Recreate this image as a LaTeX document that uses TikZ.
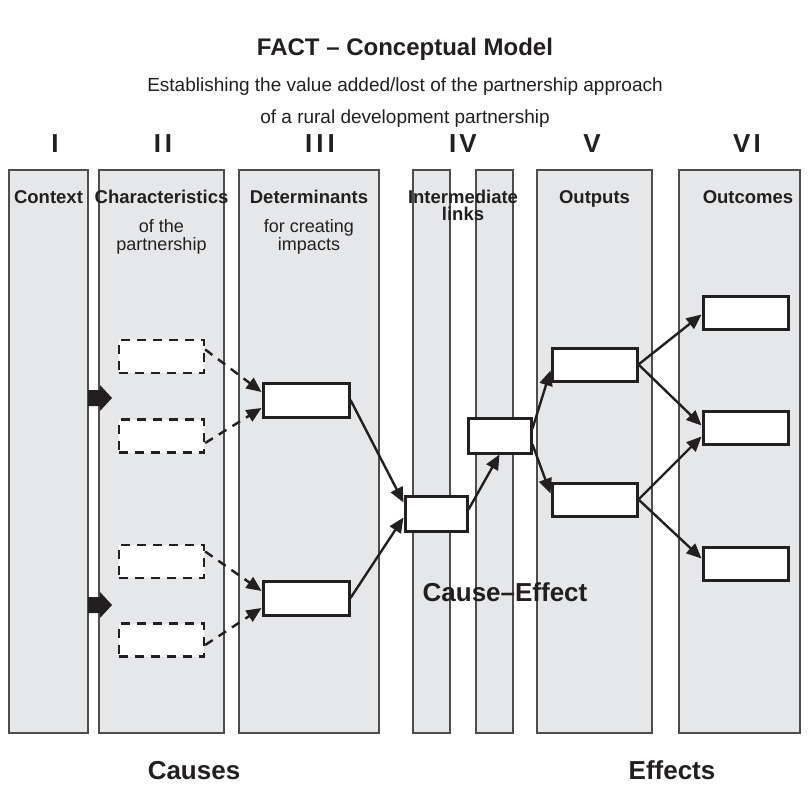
\documentclass[tikz,border=0pt]{standalone}
\usepackage{fontspec}
\setmainfont{Liberation Sans}
\usetikzlibrary{arrows.meta,calc}
\definecolor{colfill}{HTML}{E6E7E8}
\definecolor{colline}{HTML}{4D4D4D}
\definecolor{ink}{HTML}{231F20}
\begin{document}
\begin{tikzpicture}[x=1bp,y=-1bp,
  column/.style={draw=colline, line width=1.4bp, fill=colfill},
  solidbox/.style={draw=ink, line width=3bp, fill=white, inner sep=0pt, minimum width=86bp, minimum height=34bp},
  dashbox/.style={draw=ink, line width=2.4bp, dash pattern=on 9bp off 7bp, fill=white, inner sep=0pt, minimum width=85bp, minimum height=33bp},
  link/.style={draw=ink, line width=2.4bp, -{Triangle[length=15bp,width=13bp]}},
  dashlink/.style={link, dash pattern=on 9bp off 7bp},
  blockarrow/.style={fill=ink},
  titletxt/.style={font=\fontsize{24bp}{28bp}\selectfont\bfseries, text=ink, anchor=base, inner sep=0pt},
  subtxt/.style={font=\fontsize{19bp}{22bp}\selectfont, text=ink, anchor=base, inner sep=0pt},
  numtxt/.style={font=\fontsize{26bp}{28bp}\selectfont\bfseries, text=ink, anchor=base, inner sep=0pt},
  hdrtxt/.style={font=\fontsize{18.5bp}{20bp}\selectfont\bfseries, text=ink, anchor=base, inner sep=0pt},
  hdrsub/.style={font=\fontsize{18bp}{20bp}\selectfont, text=ink, anchor=base, inner sep=0pt},
  bigtxt/.style={font=\fontsize{26bp}{28bp}\selectfont\bfseries, text=ink, anchor=base, inner sep=0pt}
]
\useasboundingbox[fill=white] (0,0) rectangle (810,785);

% title
\node[titletxt] (title) at (405,56) {FACT -- Conceptual Model};
\node[subtxt] (sub1) at (405,91) {Establishing the value added/lost of the partnership approach};
\node[subtxt] (sub2) at (405,123) {of a rural development partnership};

% roman numerals
\node[numtxt] (nI) at (55,152) {I};
\node[numtxt] (nII) at (163,152) {I\hspace{4bp}I};
\node[numtxt] (nIII) at (320,152) {I\hspace{4bp}I\hspace{4bp}I};
\node[numtxt] (nIV) at (463,152) {I\hspace{3bp}V};
\node[numtxt] (nV) at (592,152) {V};
\node[numtxt] (nVI) at (747,152) {V\hspace{3bp}I};

% columns
\draw[column] (9,170) rectangle (88,733);
\draw[column] (99,170) rectangle (224,733);
\draw[column] (239,170) rectangle (379,733);
\draw[column] (413,170) rectangle (450,733);
\draw[column] (476,170) rectangle (513,733);
\draw[column] (537,170) rectangle (652,733);
\draw[column] (679,170) rectangle (800,733);

% headers
\node[hdrtxt] (hI) at (48.5,203) {Context};
\node[hdrtxt] (hII) at (161.5,203) {Characteristics};
\node[hdrsub] (hIIa) at (161.5,232) {of the};
\node[hdrsub] (hIIb) at (161.5,250) {partnership};
\node[hdrtxt] (hIII) at (309,203) {Determinants};
\node[hdrsub] (hIIIa) at (309,232) {for creating};
\node[hdrsub] (hIIIb) at (309,250) {impacts};
\node[hdrtxt] (hIV) at (463,203) {Intermediate};
\node[hdrtxt] (hIVb) at (463,220) {links};
\node[hdrtxt] (hV) at (594.5,203) {Outputs};
\node[hdrtxt] (hVI) at (748,203) {Outcomes};

% block arrows from context
\fill[blockarrow] (88,390) -- (100,390) -- (100,385) -- (112,398) -- (100,411) -- (100,406) -- (88,406) -- cycle;
\fill[blockarrow] (88,597) -- (100,597) -- (100,592) -- (112,605) -- (100,618) -- (100,613) -- (88,613) -- cycle;

% boxes
\node[dashbox] (d1) at (161.5,356.5) {};
\node[dashbox] (d2) at (161.5,436) {};
\node[dashbox] (d3) at (161.5,561.5) {};
\node[dashbox] (d4) at (161.5,640) {};
\node[solidbox] (det1) at (306,400) {};
\node[solidbox] (det2) at (306,598) {};
\node[solidbox, minimum width=62bp, minimum height=35bp] (m1) at (436,513.5) {};
\node[solidbox, minimum width=63bp, minimum height=35bp] (m2) at (499.5,435.5) {};
\node[solidbox, minimum width=85bp, minimum height=33bp] (o1) at (594.5,364.5) {};
\node[solidbox, minimum width=85bp, minimum height=33bp] (o2) at (594.5,499.5) {};
\node[solidbox, minimum width=85bp, minimum height=33bp] (c1) at (745.5,312.5) {};
\node[solidbox, minimum width=85bp, minimum height=33bp] (c2) at (745.5,427.5) {};
\node[solidbox, minimum width=85bp, minimum height=33bp] (c3) at (745.5,563.5) {};

% dashed links
\draw[dashlink] ($(d1.east)+(0,-7)$) -- ($(det1.west)+(0,-8)$);
\draw[dashlink] ($(d2.east)+(0,7)$) -- ($(det1.west)+(0,8)$);
\draw[dashlink] ($(d3.east)+(0,-10)$) -- ($(det2.west)+(0,-7)$);
\draw[dashlink] ($(d4.east)+(0,5)$) -- ($(det2.west)+(0,10)$);

% solid links
\draw[link] (det1.east) -- ($(m1.west)+(0,-11)$);
\draw[link] (det2.east) -- ($(m1.west)+(0,4)$);
\draw[link] ($(m1.east)+(0,-4)$) -- (m2.south);
\draw[link] ($(m2.east)+(0,-7)$) -- ($(o1.west)+(0,6)$);
\draw[link] ($(m2.east)+(0,9)$) -- ($(o2.west)+(0,-6)$);
\draw[link] (o1.east) -- ($(c1.west)+(0,2)$);
\draw[link] (o1.east) -- ($(c2.west)+(0,-2)$);
\draw[link] (o2.east) -- ($(c2.west)+(0,9)$);
\draw[link] (o2.east) -- ($(c3.west)+(0,-5)$);

% bottom texts
\node[bigtxt] (ce) at (505,601) {Cause--Effect};
\node[bigtxt] (causes) at (194,779) {Causes};
\node[bigtxt] (effects) at (672,779) {Effects};
\end{tikzpicture}
\end{document}
